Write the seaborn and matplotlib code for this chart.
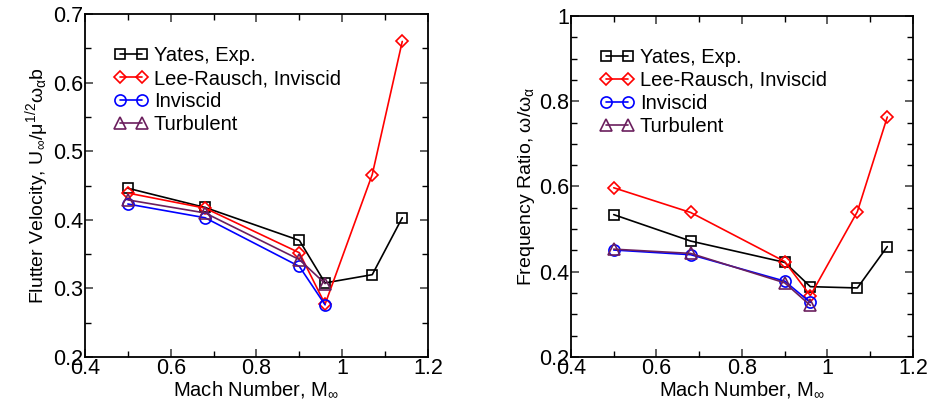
import matplotlib
matplotlib.use("Agg")
import matplotlib.pyplot as plt
from matplotlib.ticker import MultipleLocator
import seaborn as sns
import pandas as pd

sns.set_theme(style="ticks")
plt.rcParams["font.family"] = ["Liberation Sans", "DejaVu Sans"]
plt.rcParams["mathtext.fontset"] = "custom"
plt.rcParams["mathtext.rm"] = "Liberation Sans"
plt.rcParams["mathtext.it"] = "Liberation Sans"
plt.rcParams["mathtext.bf"] = "Liberation Sans:bold"
plt.rcParams["text.color"] = "black"
plt.rcParams["axes.labelcolor"] = "black"
plt.rcParams["xtick.labelcolor"] = "black"
plt.rcParams["ytick.labelcolor"] = "black"

# Mach numbers
mach_exp = [0.50, 0.68, 0.90, 0.96, 1.07, 1.14]
mach_lr = [0.50, 0.68, 0.90, 0.96, 1.07, 1.14]
mach_cfd = [0.50, 0.68, 0.90, 0.96]

# Flutter speed index
speed_yates = [0.446, 0.418, 0.370, 0.308, 0.320, 0.403]
speed_lee = [0.439, 0.417, 0.352, 0.277, 0.466, 0.660]
speed_inv = [0.423, 0.403, 0.332, 0.276]
speed_turb = [0.429, 0.410, 0.342, 0.307]

# Flutter frequency ratio
freq_yates = [0.534, 0.472, 0.422, 0.365, 0.362, 0.459]
freq_lee = [0.597, 0.539, 0.424, 0.344, 0.541, 0.763]
freq_inv = [0.451, 0.440, 0.378, 0.328]
freq_turb = [0.453, 0.443, 0.374, 0.321]

labels = ["Yates, Exp.", "Lee-Rausch, Inviscid", "Inviscid", "Turbulent"]
colors = ["black", "#ff0000", "#0000ff", "#6b1f5e"]
markers = ["s", "D", "o", "^"]
msizes = [7.5, 6.0, 8.0, 8.0]

fig = plt.figure(figsize=(9.31, 4.12), dpi=100)
ax1 = fig.add_axes([0.0913, 0.1335, 0.3684, 0.8325])
ax2 = fig.add_axes([0.6133, 0.1335, 0.3673, 0.8277])


def draw(ax, series):
    for (x, y), lab, c, m, ms in zip(series, labels, colors, markers, msizes):
        df = pd.DataFrame({"Mach": x, "val": y})
        sns.lineplot(data=df, x="Mach", y="val", ax=ax, sort=False,
                     color=c, marker=m, markersize=ms, fillstyle="none",
                     markeredgecolor=c, markeredgewidth=1.2, linewidth=1.2,
                     label=lab)
    ax.set_xlim(0.4, 1.2)
    ax.xaxis.set_minor_locator(MultipleLocator(0.1))
    ax.set_xticks([0.4, 0.6, 0.8, 1.0, 1.2])
    ax.set_xticklabels(["0.4", "0.6", "0.8", "1", "1.2"])
    ax.tick_params(which="both", direction="in", top=True, right=True,
                   labelsize=15.5, pad=1, width=1.0, color="black")
    ax.tick_params(which="major", length=6, color="#555555", width=1.3)
    ax.tick_params(which="minor", length=4)
    for s in ax.spines.values():
        s.set_linewidth(1.3)
        s.set_color("black")
    ax.set_xlabel(r"Mach Number, M$_\infty$", fontsize=14.5, labelpad=0)
    ax.legend(loc="upper left", bbox_to_anchor=(0.06, 0.93),
              frameon=False, numpoints=2, handlelength=1.7,
              handletextpad=0.3, labelspacing=0.2, fontsize=14.5,
              borderaxespad=0)


draw(ax1, [(mach_exp, speed_yates), (mach_lr, speed_lee),
           (mach_cfd, speed_inv), (mach_cfd, speed_turb)])
ax1.set_ylim(0.2, 0.7)
ax1.yaxis.set_minor_locator(MultipleLocator(0.05))
ax1.set_yticks([0.2, 0.3, 0.4, 0.5, 0.6, 0.7])
ax1.set_yticklabels(["0.2", "0.3", "0.4", "0.5", "0.6", "0.7"])
ax1.set_ylabel(r"Flutter Velocity, U$_\infty$/$\mu^{1/2}\omega_\alpha$b",
               fontsize=14, labelpad=2)

draw(ax2, [(mach_exp, freq_yates), (mach_lr, freq_lee),
           (mach_cfd, freq_inv), (mach_cfd, freq_turb)])
ax2.set_ylim(0.2, 1.0)
ax2.yaxis.set_minor_locator(MultipleLocator(0.05))
ax2.set_yticks([0.2, 0.4, 0.6, 0.8, 1.0])
ax2.set_yticklabels(["0.2", "0.4", "0.6", "0.8", "1"])
ax2.set_ylabel(r"Frequency Ratio, $\omega/\omega_\alpha$",
               fontsize=14, labelpad=2)

fig.savefig("out.png", dpi=100, facecolor="white")
